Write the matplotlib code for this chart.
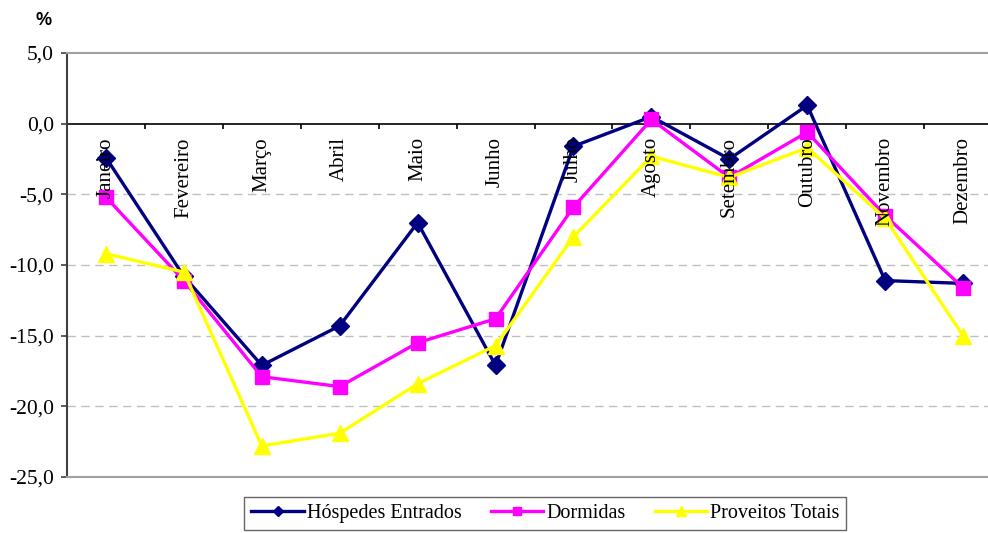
import matplotlib
matplotlib.use('Agg')
import matplotlib.pyplot as plt
import numpy as np

meses = ['Janeiro', 'Fevereiro', 'Março', 'Abril', 'Maio', 'Junho',
         'Julho', 'Agosto', 'Setembro', 'Outubro', 'Novembro', 'Dezembro']
hospedes = [-2.4, -10.8, -17.1, -14.3, -7.0, -17.1, -1.6, 0.5, -2.5, 1.3, -11.1, -11.3]
dormidas = [-5.2, -11.1, -17.9, -18.6, -15.5, -13.8, -5.9, 0.3, -3.8, -0.6, -6.5, -11.6]
proveitos = [-9.2, -10.5, -22.8, -21.9, -18.4, -15.7, -8.0, -2.3, -3.8, -1.7, -6.7, -15.0]
yticks = [5, 0, -5, -10, -15, -20, -25]

serif = 'Liberation Serif'

fig = plt.figure(figsize=(9.88, 5.33), dpi=100)
ax = fig.add_axes([0.0678, 0.105, 0.9464, 0.7955])

x = np.arange(1, 13)
ax.plot(x, hospedes, color='#000080', lw=2.4, marker='D', ms=9, label='Hóspedes Entrados', zorder=3)
ax.plot(x, dormidas, color='#FF00FF', lw=2.4, marker='s', ms=10, label='Dormidas', zorder=4)
ax.plot(x, proveitos, color='#FFFF00', lw=2.4, marker='^', ms=11, label='Proveitos Totais', zorder=5)

ax.set_xlim(0.5, 12.5)
ax.set_ylim(-25, 5)
ax.set_yticks(yticks)
ax.set_yticklabels([('%.1f' % v).replace('.', ',') for v in yticks], fontfamily=serif, fontsize=15.5)
ax.set_xticks([])
for v in yticks[2:-1]:
    ax.axhline(v, color='#c0c0c0', lw=1, ls=(0, (6, 4)), zorder=1)
ax.axhline(0, color='black', lw=1.2, zorder=2)
ax.vlines(np.arange(1.5, 12.5, 1), 0, -0.35, color='black', lw=1.2, zorder=2)

ax.spines['right'].set_visible(False)
ax.spines['top'].set_color('#a0a0a0')
ax.spines['bottom'].set_color('#a0a0a0')
ax.spines['top'].set_linewidth(1.5)
ax.spines['bottom'].set_linewidth(1.5)
ax.spines['left'].set_color('#404040')
ax.spines['left'].set_linewidth(1.5)
ax.tick_params(axis='y', length=4.5, width=1.2, color='#404040', pad=5)

for xi, m in zip(x, meses):
    ax.text(xi, -0.95, m, rotation=90, ha='center', va='top', fontfamily=serif, fontsize=15, zorder=6)

fig.text(0.044, 0.962, '%', fontfamily='Liberation Sans', fontweight='bold', fontsize=13, ha='center', va='center')

leg = fig.legend(loc='lower center', bbox_to_anchor=(0.552, 0.006), borderaxespad=0, ncol=3, frameon=True,
                 fancybox=False, prop={'family': serif, 'size': 14.5}, handlelength=2.6, handletextpad=0.15,
                 columnspacing=1.45, borderpad=0.35, markerscale=0.6)
leg.get_frame().set_edgecolor('#404040')
leg.get_frame().set_linewidth(1)

fig.savefig('out.png', dpi=100)
